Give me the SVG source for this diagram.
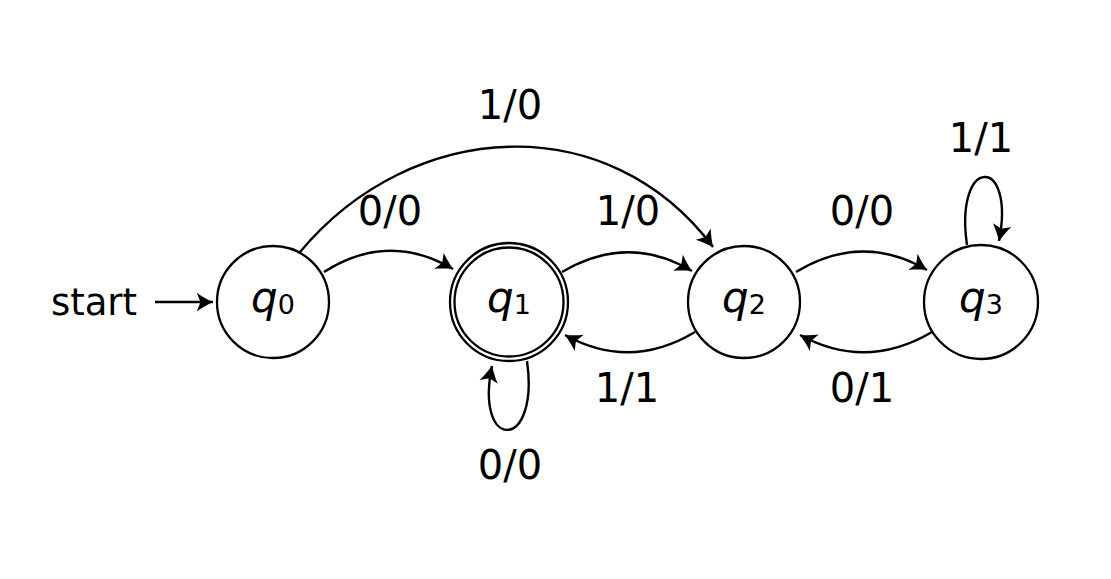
<svg xmlns="http://www.w3.org/2000/svg" width="1111" height="579" viewBox="0 0 1111 579">
<style>
.st{fill:#fff;stroke:#000;stroke-width:2.3}
.e{fill:none;stroke:#000;stroke-width:2.4;marker-end:url(#ah)}
.lb{font-family:"DejaVu Sans",sans-serif;font-size:40px;fill:#000;text-anchor:middle}
.q{font-family:"DejaVu Sans",sans-serif;font-size:42px;fill:#000;text-anchor:middle}
.q .v{font-style:italic}
.q .s{font-size:27px}
</style>
<defs>
<marker id="ah" markerUnits="userSpaceOnUse" markerWidth="20" markerHeight="20" refX="0" refY="0" viewBox="-14 -8 16 16" orient="auto" overflow="visible">
<path d="M0,0 C-4,-2 -9,-4.5 -13,-7.5 L-10,0 L-13,7.5 C-9,4.5 -4,2 0,0 Z" fill="#000"/>
</marker>
</defs>
<rect width="1111" height="579" fill="#fff"/>
<g id="connectors">
<path class="e" d="M155,302 L213,302"/>
<path class="e" d="M324,272 Q388,231 453,269"/>
<path class="e" d="M300,252 C412,118 608,107 713,247"/>
<path class="e" d="M562,272 Q628,233 692,271"/>
<path class="e" d="M695,332 Q630,371 565,335"/>
<path class="e" d="M796,272 Q862,232 927,270"/>
<path class="e" d="M932,332 Q866,371 800,335"/>
<path class="e" d="M527,361 C540,452 474,452 492,366"/>
<path class="e" d="M967,245 C954,155 1016,155 999,241"/>
</g>
<g id="labels">
<text class="lb" x="94" y="315" style="font-size:37px">start</text>
<text class="lb" x="510" y="119">1/0</text>
<text class="lb" x="390" y="225">0/0</text>
<text class="lb" x="628" y="225">1/0</text>
<text class="lb" x="862" y="225">0/0</text>
<text class="lb" x="981" y="152">1/1</text>
<text class="lb" x="627" y="402">1/1</text>
<text class="lb" x="862" y="402">0/1</text>
<text class="lb" x="510" y="479">0/0</text>
</g>
<g id="q0">
<circle class="st" cx="273" cy="302" r="56"/>
<text class="q" x="273" y="312"><tspan class="v">q</tspan><tspan class="s" dy="2">0</tspan></text>
</g>
<g id="q1">
<circle class="st" cx="509" cy="302" r="59"/>
<circle class="st" cx="509" cy="302" r="54.5"/>
<text class="q" x="509" y="312"><tspan class="v">q</tspan><tspan class="s" dy="2">1</tspan></text>
</g>
<g id="q2">
<circle class="st" cx="744" cy="302" r="56"/>
<text class="q" x="744" y="312"><tspan class="v">q</tspan><tspan class="s" dy="2">2</tspan></text>
</g>
<g id="q3">
<circle class="st" cx="981" cy="302" r="57"/>
<text class="q" x="981" y="312"><tspan class="v">q</tspan><tspan class="s" dy="2">3</tspan></text>
</g>
</svg>
